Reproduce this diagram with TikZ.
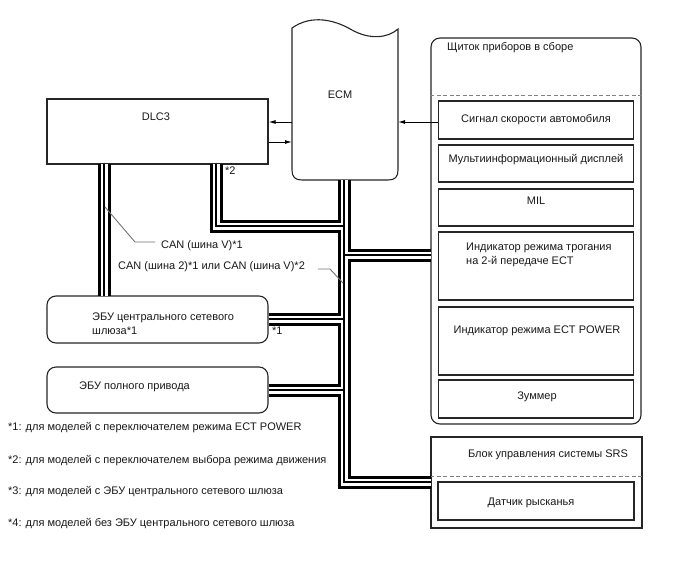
\documentclass[tikz,border=0pt]{standalone}
\usepackage{fontspec}
\setmainfont{Liberation Sans}
\usetikzlibrary{arrows.meta}
\begin{document}
\begin{tikzpicture}[x=1pt,y=-1pt,
  lbl/.style={font=\fontsize{11}{14}\selectfont, inner sep=0pt, text=black!90},
  boxline/.style={draw=black!85, line width=1.1pt},
  sqbox/.style={boxline, rectangle, inner sep=0pt},
  rbox/.style={boxline, rectangle, rounded corners=9pt, inner sep=0pt},
  leader/.style={draw=black!55, line width=0.9pt},
  sig/.style={draw=black, line width=1pt, -{Latex[length=7pt,width=4pt]}},
  dashsep/.style={draw=black!50, line width=1pt, dashed, dash pattern=on 4pt off 2.5pt}]
\useasboundingbox (0,0) rectangle (688,560);
\fill[white] (0,0) rectangle (688,560);

% DLC3
\node[sqbox, minimum width=221pt, minimum height=65pt] (dlc) at (157.5,131.5) {};
\node[lbl] (dlct) at (156,117) {DLC3};

% ECM
\draw[boxline] (292,28) .. controls (312,14) and (335,20) .. (352,30)
   .. controls (370,40) and (388,38) .. (398,29) -- (398,170)
   .. controls (398,177) and (395,180) .. (388,180) -- (302,180)
   .. controls (295,180) and (292,177) .. (292,170) -- cycle;
\coordinate (ecmL1) at (292,122);
\coordinate (ecmL2) at (292,142);
\coordinate (ecmR) at (398,122);
\coordinate (ecmB) at (344,180);
\node[lbl] (ecmt) at (340,95) {ECM};

% Instrument cluster
\node[rbox, minimum width=210pt, minimum height=386pt] (clu) at (536,231) {};
\node[lbl, anchor=west] (clut) at (447,48) {Щиток приборов в сборе};
\draw[dashsep] (clu.west |- 0,95) -- (clu.east |- 0,95);
\node[sqbox, minimum width=195pt, minimum height=38pt] (b1) at (536,120) {};
\node[lbl] at (b1) {Сигнал скорости автомобиля};
\node[sqbox, minimum width=195pt, minimum height=37pt] (b2) at (536,163.5) {};
\node[lbl] at (536,160) {Мультиинформационный дисплей};
\node[sqbox, minimum width=195pt, minimum height=37pt] (b3) at (536,207.5) {};
\node[lbl] at (536,201) {MIL};
\node[sqbox, minimum width=195pt, minimum height=68pt] (b4) at (536,266) {};
\node[lbl, anchor=west, align=left] at (466,255) {Индикатор режима трогания\\на 2-й передаче ECT};
\node[sqbox, minimum width=195pt, minimum height=68pt] (b5) at (536,341) {};
\node[lbl] at (537,331) {Индикатор режима ECT POWER};
\node[sqbox, minimum width=195pt, minimum height=38pt] (b6) at (536,399) {};
\node[lbl] at (537,397) {Зуммер};

% SRS
\node[sqbox, minimum width=211pt, minimum height=91pt] (srs) at (536.5,482.5) {};
\node[lbl] at (548,455) {Блок управления системы SRS};
\draw[dashsep] (srs.west |- 0,476) -- (srs.east |- 0,476);
\node[sqbox, minimum width=196pt, minimum height=38pt] (yaw) at (536,501) {};
\node[lbl] at (531,503) {Датчик рысканья};

% Gateway ECU and 4WD ECU
\node[rbox, minimum width=221pt, minimum height=47pt] (gw) at (157.5,319.5) {};
\node[lbl, anchor=west, align=left] at (92,324) {ЭБУ центрального сетевого\\шлюза*1};
\node[rbox, minimum width=221pt, minimum height=46pt] (awd) at (157.5,390) {};
\node[lbl, anchor=west] at (79,387) {ЭБУ полного привода};

% signal arrows
\draw[sig] (ecmL1) -- (ecmL1 -| dlc.east);
\draw[sig] (ecmL2 -| dlc.east) -- (ecmL2);
\draw[sig] (b1.west |- ecmR) -- (ecmR);

% bus coordinates
\coordinate (d1) at (104,164);
\coordinate (g1) at (104,296);
\coordinate (d2) at (216,164);
\coordinate (k2) at (216,226);
\coordinate (j2) at (344,226);
\coordinate (jc) at (344,255);
\coordinate (c1) at (431,255);
\coordinate (jg) at (344,319);
\coordinate (ja) at (344,390);
\coordinate (kb) at (344,482);
\coordinate (s1) at (431,482);

\foreach \w/\c in {13/black,7/white,1.2/black}{
  \draw[line width=\w pt, draw=\c, line join=miter, line cap=butt]
    (d1) -- (g1)
    (d2) -- (k2) -- (j2)
    (ecmB) -- (kb) -- (s1)
    (jc) -- (c1)
    (gw.east |- jg) -- (jg)
    (awd.east |- ja) -- (ja);
}

% bus labels
\draw[leader] (105,207) -- (135,242) -- (155,242);
\node[lbl, anchor=west] at (161,246) {CAN (шина V)*1};
\draw[leader] (343,283) -- (330,269) -- (318,269);
\node[lbl, anchor=west] at (118,267) {CAN (шина 2)*1 или CAN (шина V)*2};
\node[lbl, anchor=west] at (225,171) {*2};
\node[lbl, anchor=west] at (272,331) {*1};

% footnotes
\node[lbl, anchor=west] at (8,428) {*1: для моделей с переключателем режима ECT POWER};
\node[lbl, anchor=west] at (8,461) {*2: для моделей с переключателем выбора режима движения};
\node[lbl, anchor=west] at (8,492) {*3: для моделей с ЭБУ центрального сетевого шлюза};
\node[lbl, anchor=west] at (8,524) {*4: для моделей без ЭБУ центрального сетевого шлюза};
\end{tikzpicture}
\end{document}
